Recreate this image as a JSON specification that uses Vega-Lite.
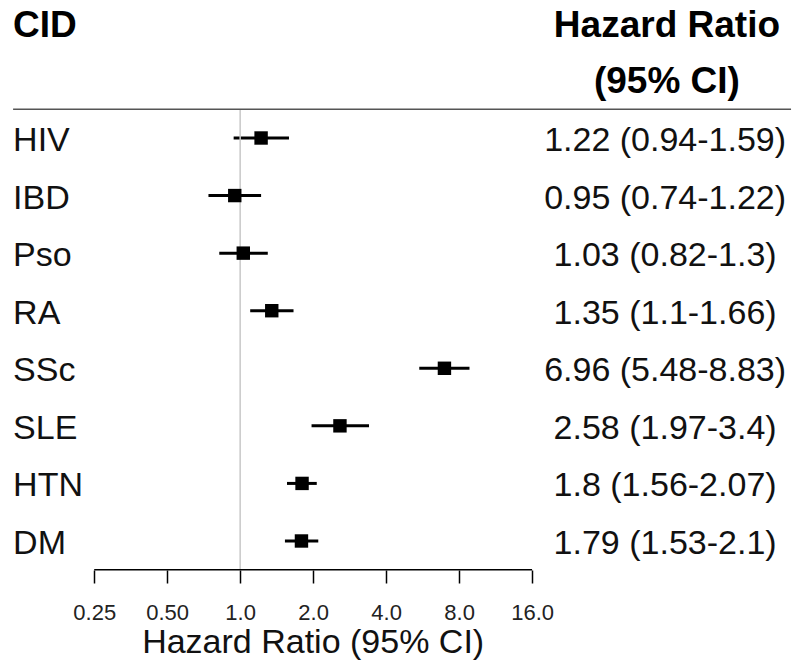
{
  "$schema": "https://vega.github.io/schema/vega-lite/v6.json",
  "width": 800,
  "height": 570,
  "autosize": "none",
  "padding": {"left": 0, "top": 0, "right": 0, "bottom": 96},
  "background": "white",
  "config": {
    "view": {"stroke": null},
    "font": "Liberation Sans",
    "axisX": {"domain": false, "grid": false, "tickSize": 13, "tickWidth": 1.5, "tickColor": "#000",
              "labelFontSize": 22, "labelFont": "Liberation Sans", "labelColor": "#222",
              "labelPadding": 19, "labelFlush": false, "labelOverlap": false, "labelBaseline": "top"}
  },
  "data": {"values": [
    {"cid": "HIV", "order": 1, "hr": 1.22, "lo": 0.94, "hi": 1.59, "ci": "1.22 (0.94-1.59)"},
    {"cid": "IBD", "order": 2, "hr": 0.95, "lo": 0.74, "hi": 1.22, "ci": "0.95 (0.74-1.22)"},
    {"cid": "Pso", "order": 3, "hr": 1.03, "lo": 0.82, "hi": 1.3, "ci": "1.03 (0.82-1.3)"},
    {"cid": "RA", "order": 4, "hr": 1.35, "lo": 1.1, "hi": 1.66, "ci": "1.35 (1.1-1.66)"},
    {"cid": "SSc", "order": 5, "hr": 6.96, "lo": 5.48, "hi": 8.83, "ci": "6.96 (5.48-8.83)"},
    {"cid": "SLE", "order": 6, "hr": 2.58, "lo": 1.97, "hi": 3.4, "ci": "2.58 (1.97-3.4)"},
    {"cid": "HTN", "order": 7, "hr": 1.8, "lo": 1.56, "hi": 2.07, "ci": "1.8 (1.56-2.07)"},
    {"cid": "DM", "order": 8, "hr": 1.79, "lo": 1.53, "hi": 2.1, "ci": "1.79 (1.53-2.1)"}
  ]},
  "layer": [
    {
      "mark": {"type": "rule", "stroke": "#000", "strokeWidth": 3},
      "encoding": {
        "x": {"field": "lo", "type": "quantitative", "title": null,
              "scale": {"type": "log", "domain": [0.10218, 203.83], "nice": false},
              "axis": {"values": [0.25, 0.5, 1, 2, 4, 8, 16],
                       "labelExpr": "datum.value < 1 ? format(datum.value, '.2f') : format(datum.value, '.1f')",
                       "labelFontSize": 22, "labelPadding": 19, "tickSize": 13, "title": null}},
        "x2": {"field": "hi"},
        "y": {"field": "order", "type": "quantitative", "axis": null,
              "scale": {"domain": [-1.397, 8.504], "reverse": true, "nice": false, "zero": false}}
      }
    },
    {
      "data": {"values": [{}]},
      "mark": {"type": "rule", "stroke": "#c8c8c8", "strokeWidth": 1.5},
      "encoding": {
        "x": {"datum": 1, "type": "quantitative", "title": null},
        "y": {"datum": 0.5, "type": "quantitative", "axis": null},
        "y2": {"datum": 8.5}
      }
    },
    {
      "data": {"values": [{}]},
      "mark": {"type": "rule", "stroke": "#555", "strokeWidth": 1.5},
      "encoding": {
        "x": {"datum": 0.1157, "type": "quantitative", "title": null},
        "x2": {"datum": 187.2},
        "y": {"datum": 0.5, "type": "quantitative", "axis": null}
      }
    },
    {
      "data": {"values": [{}]},
      "mark": {"type": "rule", "stroke": "#000", "strokeWidth": 1.5},
      "encoding": {
        "x": {"datum": 0.25, "type": "quantitative", "title": null},
        "x2": {"datum": 16},
        "y": {"datum": 8.5, "type": "quantitative", "axis": null}
      }
    },
    {
      "mark": {"type": "point", "shape": "square", "filled": true, "size": 180, "color": "#000", "opacity": 1},
      "encoding": {
        "x": {"field": "hr", "type": "quantitative", "title": null},
        "y": {"field": "order", "type": "quantitative", "axis": null}
      }
    },
    {
      "mark": {"type": "text", "align": "left", "baseline": "middle", "dy": 3, "fontSize": 34, "font": "Liberation Sans", "color": "#111"},
      "encoding": {
        "x": {"datum": 0.1157, "type": "quantitative", "title": null},
        "y": {"field": "order", "type": "quantitative", "axis": null},
        "text": {"field": "cid"}
      }
    },
    {
      "mark": {"type": "text", "align": "center", "baseline": "middle", "dy": 3, "fontSize": 34, "font": "Liberation Sans", "color": "#111"},
      "encoding": {
        "x": {"datum": 56.6, "type": "quantitative", "title": null},
        "y": {"field": "order", "type": "quantitative", "axis": null},
        "text": {"field": "ci"}
      }
    },
    {
      "data": {"values": [{}]},
      "mark": {"type": "text", "text": "CID", "align": "left", "baseline": "middle", "dy": 3, "fontSize": 37, "fontWeight": "bold", "font": "Liberation Sans", "color": "#000"},
      "encoding": {
        "x": {"datum": 0.1157, "type": "quantitative", "title": null},
        "y": {"datum": -1, "type": "quantitative", "axis": null}
      }
    },
    {
      "data": {"values": [{}]},
      "mark": {"type": "text", "text": "Hazard Ratio", "align": "center", "baseline": "middle", "dy": 3, "fontSize": 37, "fontWeight": "bold", "font": "Liberation Sans", "color": "#000"},
      "encoding": {
        "x": {"datum": 57.6, "type": "quantitative", "title": null},
        "y": {"datum": -1, "type": "quantitative", "axis": null}
      }
    },
    {
      "data": {"values": [{}]},
      "mark": {"type": "text", "text": "(95% CI)", "align": "center", "baseline": "middle", "dy": 2, "fontSize": 37, "fontWeight": "bold", "font": "Liberation Sans", "color": "#000"},
      "encoding": {
        "x": {"datum": 57.6, "type": "quantitative", "title": null},
        "y": {"datum": 0, "type": "quantitative", "axis": null}
      }
    },
    {
      "data": {"values": [{}]},
      "mark": {"type": "text", "text": "Hazard Ratio (95% CI)", "align": "center", "baseline": "middle", "fontSize": 34, "font": "Liberation Sans", "color": "#111"},
      "encoding": {
        "x": {"datum": 2, "type": "quantitative", "title": null},
        "y": {"datum": 9.78, "type": "quantitative", "axis": null}
      }
    }
  ]
}
